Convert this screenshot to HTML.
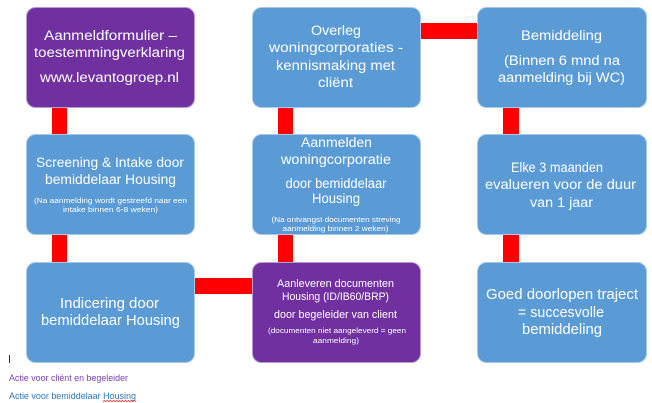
<!DOCTYPE html>
<html><head><meta charset="utf-8"><style>
html,body{margin:0;padding:0;background:#fff;}
svg{display:block;}
text{font-family:"Liberation Sans",sans-serif;fill:#fff;}
</style></head><body>
<svg width="652" height="403" viewBox="0 0 652 403" xmlns="http://www.w3.org/2000/svg">
<!-- connectors -->
<rect x="52" y="106" width="15" height="30" fill="#ff0000"/>
<rect x="52" y="233" width="15" height="31" fill="#ff0000"/>
<rect x="278" y="106" width="15" height="30" fill="#ff0000"/>
<rect x="278" y="233" width="15" height="31" fill="#ff0000"/>
<rect x="503" y="106" width="16" height="30" fill="#ff0000"/>
<rect x="503" y="233" width="16" height="31" fill="#ff0000"/>
<rect x="419" y="23" width="60" height="16" fill="#ff0000"/>
<rect x="193" y="278" width="61" height="16" fill="#ff0000"/>
<!-- boxes -->
<g stroke-width="1">
<rect x="26.5" y="7.5" width="168" height="100" rx="9" fill="#7030a0" stroke="#b79ad0"/>
<rect x="252.5" y="7.5" width="168" height="100" rx="9" fill="#5b9bd5" stroke="#a9c9ea"/>
<rect x="477.5" y="7.5" width="169" height="100" rx="9" fill="#5b9bd5" stroke="#a9c9ea"/>
<rect x="26.5" y="134.5" width="168" height="100" rx="9" fill="#5b9bd5" stroke="#a9c9ea"/>
<rect x="252.5" y="134.5" width="168" height="100" rx="9" fill="#5b9bd5" stroke="#a9c9ea"/>
<rect x="477.5" y="134.5" width="169" height="100" rx="9" fill="#5b9bd5" stroke="#a9c9ea"/>
<rect x="26.5" y="262.5" width="168" height="100" rx="9" fill="#5b9bd5" stroke="#a9c9ea"/>
<rect x="252.5" y="262.5" width="168" height="100" rx="9" fill="#7030a0" stroke="#b79ad0"/>
<rect x="477.5" y="262.5" width="169" height="100" rx="9" fill="#5b9bd5" stroke="#a9c9ea"/>
</g>
<g text-anchor="middle" lengthAdjust="spacingAndGlyphs">
<!-- box 1 -->
<text x="110.5" y="40" font-size="13.5" textLength="133" lengthAdjust="spacingAndGlyphs">Aanmeldformulier –</text>
<text x="109.5" y="57" font-size="13.5" textLength="151" lengthAdjust="spacingAndGlyphs">toestemmingverklaring</text>
<text x="109.5" y="82" font-size="13.5" textLength="139" lengthAdjust="spacingAndGlyphs">www.levantogroep.nl</text>
<!-- box 2 -->
<text x="336" y="35" font-size="13.5" textLength="50" lengthAdjust="spacingAndGlyphs">Overleg</text>
<text x="336" y="52" font-size="13.5" textLength="134" lengthAdjust="spacingAndGlyphs">woningcorporaties  -</text>
<text x="335.5" y="70" font-size="13.5" textLength="119" lengthAdjust="spacingAndGlyphs">kennismaking met</text>
<text x="335.5" y="87" font-size="13.5" textLength="35" lengthAdjust="spacingAndGlyphs">cliënt</text>
<!-- box 3 -->
<text x="561.5" y="40" font-size="13.5" textLength="81" lengthAdjust="spacingAndGlyphs">Bemiddeling</text>
<text x="562" y="65" font-size="13.5" textLength="116" lengthAdjust="spacingAndGlyphs">(Binnen 6 mnd na</text>
<text x="561.5" y="82" font-size="13.5" textLength="127" lengthAdjust="spacingAndGlyphs">aanmelding bij WC)</text>
<!-- box 4 -->
<text x="110" y="167" font-size="13.5" textLength="148" lengthAdjust="spacingAndGlyphs">Screening &amp; Intake door</text>
<text x="110.5" y="184" font-size="13.5" textLength="131" lengthAdjust="spacingAndGlyphs">bemiddelaar Housing</text>
<text x="110.5" y="203" font-size="7" textLength="153" lengthAdjust="spacingAndGlyphs">(Na aanmelding wordt gestreefd naar een</text>
<text x="110.5" y="212" font-size="7" textLength="95" lengthAdjust="spacingAndGlyphs">intake binnen 6-8 weken)</text>
<!-- box 5 -->
<text x="336.5" y="147" font-size="13.5" textLength="71" lengthAdjust="spacingAndGlyphs">Aanmelden</text>
<text x="336" y="164" font-size="13.5" textLength="110" lengthAdjust="spacingAndGlyphs">woningcorporatie</text>
<text x="336" y="188" font-size="13.5" textLength="101" lengthAdjust="spacingAndGlyphs">door bemiddelaar</text>
<text x="336" y="203" font-size="13.5" textLength="48" lengthAdjust="spacingAndGlyphs">Housing</text>
<text x="336" y="222" font-size="7" textLength="129" lengthAdjust="spacingAndGlyphs">(Na ontvangst documenten streving</text>
<text x="335.5" y="231" font-size="7" textLength="106" lengthAdjust="spacingAndGlyphs">aanmelding binnen 2 weken)</text>
<!-- box 6 -->
<text x="557" y="172" font-size="13.5" textLength="92" lengthAdjust="spacingAndGlyphs">Elke 3 maanden</text>
<text x="560.5" y="189" font-size="13.5" textLength="151" lengthAdjust="spacingAndGlyphs">evalueren voor de duur</text>
<text x="561.5" y="207" font-size="13.5" textLength="63" lengthAdjust="spacingAndGlyphs">van 1 jaar</text>
<!-- box 7 -->
<text x="109.5" y="308" font-size="15" textLength="99" lengthAdjust="spacingAndGlyphs">Indicering door</text>
<text x="110.5" y="325" font-size="15" textLength="139" lengthAdjust="spacingAndGlyphs">bemiddelaar Housing</text>
<!-- box 8 -->
<text x="335.5" y="287" font-size="11" textLength="117" lengthAdjust="spacingAndGlyphs">Aanleveren documenten</text>
<text x="335.5" y="300" font-size="11" textLength="107" lengthAdjust="spacingAndGlyphs">Housing (ID/IB60/BRP)</text>
<text x="335.5" y="318" font-size="11" textLength="123" lengthAdjust="spacingAndGlyphs">door begeleider van client</text>
<text x="337" y="333" font-size="7" textLength="138" lengthAdjust="spacingAndGlyphs">(documenten niet aangeleverd = geen</text>
<text x="336" y="343" font-size="7" textLength="46" lengthAdjust="spacingAndGlyphs">aanmelding)</text>
<!-- box 9 -->
<text x="562" y="299" font-size="15" textLength="152" lengthAdjust="spacingAndGlyphs">Goed doorlopen traject</text>
<text x="561" y="317" font-size="15" textLength="86" lengthAdjust="spacingAndGlyphs">= succesvolle</text>
<text x="562" y="334" font-size="15" textLength="80" lengthAdjust="spacingAndGlyphs">bemiddeling</text>
</g>
<!-- legend -->
<rect x="9" y="355" width="1" height="8" fill="#333"/>
<text x="9" y="381" font-size="9" textLength="119" lengthAdjust="spacingAndGlyphs" style="fill:#7b3fb0">Actie voor cliënt en begeleider</text>
<text x="9" y="399" font-size="9" textLength="127" lengthAdjust="spacingAndGlyphs" style="fill:#2e75b6">Actie voor bemiddelaar Housing</text>
<path d="M103 401.5 l1.5 -1 l1.5 1 l1.5 -1 l1.5 1 l1.5 -1 l1.5 1 l1.5 -1 l1.5 1 l1.5 -1 l1.5 1 l1.5 -1 l1.5 1 l1.5 -1 l1.5 1 l1.5 -1 l1.5 1 l1.5 -1 l1.5 1 l1.5 -1 l1.5 1 l1.5 -1 l1.5 1" fill="none" stroke="#e03030" stroke-width="0.8"/>
</svg>
</body></html>
